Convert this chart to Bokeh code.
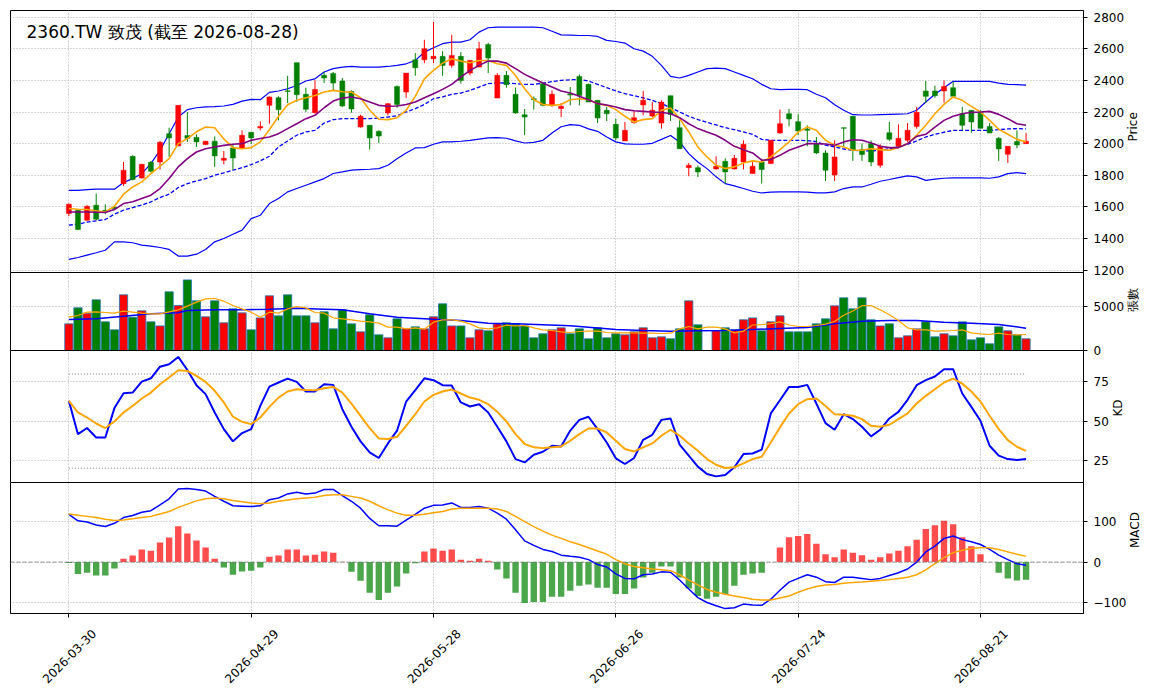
import math
from bokeh.plotting import figure
from bokeh.layouts import column
from bokeh.models import ColumnDataSource, Range1d, FixedTicker, Label, Span, LinearAxis, Axis
from bokeh.embed import file_html
from bokeh.resources import INLINE

NaN = float("nan")

TITLE = "2360.TW 致茂 (截至 2026-08-28)"
TICK_IDX = [0, 20, 40, 60, 80, 100]
TICK_LABELS = ["2026-03-30", "2026-04-29", "2026-05-28", "2026-06-26", "2026-07-24", "2026-08-21"]

OPEN = [1558, 1579, 1516, 1611, 1578, 1598, 1747, 1920, 1783, 1882,
        1884, 2063, 1985, 2051, 2040, 1994, 2015, 1895, 1973, 1973,
        2072, 2099, 2242, 2290, 2334, 2512, 2312, 2196, 2432, 2444,
        2396, 2330, 2105, 2116, 2078, 2194, 2362, 2326, 2530, 2530,
        2537, 2552, 2495, 2552, 2446, 2484, 2627, 2288, 2432, 2312,
        2183, 2284, 2379, 2242, 2222, 2316, 2425, 2375, 2274, 2211,
        2122, 2017, 2133, 2244, 2175, 2130, 2303, 2101, 1848, 1848,
        NaN, 1840, 1888, 1840, 1884, 1811, 1884, 1874, 2067, 2189,
        2139, 2093, 2000, 1941, 1802, 2101, 2173, 1962, 2000, 1863,
        2069, 1983, 2021, 2109, 2333, 2333, 2333, 2354, 2189, 2211,
        2198, 2109, 2034, 1933, 2013, 2000]
HIGH = [1621, 1585, 1611, 1684, 1617, 1610, 1884, 1926, 1873, 1890,
        2017, 2101, 2242, 2200, 2059, 2017, 2046, 1954, 1992, 2084,
        2072, 2141, 2299, 2299, 2429, 2512, 2354, 2400, 2453, 2453,
        2415, 2337, 2183, 2116, 2084, 2257, 2368, 2446, 2573, 2657,
        2770, 2585, 2688, 2579, 2530, 2644, 2638, 2446, 2459, 2354,
        2219, 2299, 2383, 2337, 2257, 2358, 2438, 2380, 2274, 2232,
        2158, 2137, 2206, 2333, 2263, 2274, 2303, 2147, 1878, 1863,
        NaN, 1920, 1907, 1928, 2021, 1884, 1905, 2021, 2215, 2219,
        2187, 2116, 2042, 1958, 2021, 2101, 2173, 2000, 2021, 1996,
        2137, 2122, 2130, 2232, 2396, 2366, 2400, 2392, 2232, 2211,
        2211, 2130, 2042, 1983, 2084, 2067]
LOW = [1541, 1453, 1512, 1516, 1554, 1580, 1733, 1768, 1779, 1819,
       1836, 1916, 1985, 2011, 1979, 1990, 1853, 1869, 1836, 1968,
       1996, 2084, 2126, 2147, 2257, 2263, 2200, 2189, 2383, 2337,
       2232, 2196, 2101, 1962, 2004, 2179, 2227, 2290, 2429, 2509,
       2509, 2429, 2480, 2379, 2432, 2484, 2446, 2288, 2354, 2189,
       2053, 2215, 2236, 2232, 2168, 2242, 2242, 2263, 2130, 2143,
       2021, 2017, 2126, 2179, 2168, 2095, 2143, 1968, 1794, 1789,
       NaN, 1836, 1747, 1836, 1836, 1811, 1747, 1870, 2063, 2109,
       2053, 1983, 1933, 1764, 1764, 1979, 1891, 1891, 1857, 1848,
       2017, 1975, 2011, 2095, 2257, 2290, 2259, 2299, 2084, 2069,
       2097, 2067, 1891, 1878, 1971, 2000]
CLOSE = [1617, 1457, 1604, 1522, 1574, 1590, 1832, 1773, 1869, 1825,
         2008, 2036, 2242, 2034, 2011, 2015, 1922, 1907, 1909, 2053,
         2036, 2109, 2295, 2215, 2330, 2309, 2217, 2343, 2415, 2383,
         2238, 2219, 2173, 2036, 2048, 2253, 2248, 2446, 2480, 2600,
         2552, 2494, 2558, 2400, 2526, 2600, 2541, 2432, 2373, 2194,
         2168, 2278, 2242, 2312, 2236, 2307, 2305, 2263, 2162, 2189,
         2036, 2084, 2164, 2274, 2211, 2263, 2185, 1968, 1863, 1821,
         NaN, 1857, 1821, 1907, 1996, 1857, 1836, 2021, 2126, 2156,
         2080, 2084, 1941, 1832, 1916, 2097, 1958, 1931, 1884, 1983,
         2027, 2034, 2084, 2198, 2299, 2303, 2362, 2299, 2116, 2137,
         2097, 2067, 1966, 1983, 1992, 2015]

BB_UPPER = [1705, 1705, 1709, 1712, 1712, 1712, 1754, 1779, 1810, 1874,
            1958, 2063, 2168, 2215, 2227, 2232, 2234, 2238, 2248, 2269,
            2280, 2278, 2324, 2333, 2347, 2368, 2396, 2410, 2453, 2474,
            2484, 2488, 2484, 2484, 2484, 2488, 2495, 2505, 2526, 2579,
            2606, 2632, 2642, 2642, 2657, 2705, 2733, 2737, 2737, 2737,
            2737, 2737, 2733, 2711, 2688, 2686, 2684, 2684, 2678, 2653,
            2646, 2636, 2600, 2585, 2552, 2495, 2425, 2415, 2432, 2453,
            2474, 2478, 2474, 2453, 2432, 2410, 2375, 2347, 2341, 2343,
            2343, 2341, 2312, 2290, 2246, 2211, 2183, 2181, 2181, 2183,
            2185, 2187, 2189, 2211, 2263, 2312, 2354, 2394, 2394, 2394,
            2394, 2394, 2383, 2375, 2373, 2370]
BB_MID = [1484, 1491, 1503, 1512, 1520, 1554, 1579, 1596, 1611, 1632,
          1659, 1680, 1722, 1747, 1764, 1779, 1800, 1815, 1832, 1848,
          1867, 1891, 1920, 1979, 2017, 2053, 2074, 2084, 2130, 2152,
          2158, 2158, 2158, 2158, 2162, 2168, 2177, 2200, 2221, 2248,
          2284, 2295, 2312, 2320, 2337, 2358, 2379, 2385, 2383, 2379,
          2375, 2375, 2383, 2392, 2400, 2404, 2406, 2396, 2375, 2354,
          2333, 2316, 2303, 2290, 2274, 2253, 2227, 2200, 2173, 2152,
          2135, 2118, 2101, 2088, 2074, 2059, 2027, 2021, 2021, 2021,
          2021, 2019, 2013, 1990, 1979, 1966, 1958, 1954, 1954, 1958,
          1968, 1979, 1996, 2017, 2042, 2059, 2072, 2084, 2084, 2084,
          2084, 2084, 2088, 2093, 2095, 2093]
BB_LOWER = [1268, 1280, 1295, 1310, 1326, 1379, 1379, 1373, 1358, 1352,
            1343, 1331, 1289, 1289, 1301, 1331, 1379, 1400, 1427, 1453,
            1526, 1547, 1621, 1653, 1695, 1716, 1737, 1758, 1779, 1811,
            1821, 1832, 1836, 1838, 1842, 1863, 1905, 1941, 1973, 1975,
            1996, 2011, 2011, 2015, 2021, 2029, 2036, 2038, 2034, 2017,
            2004, 2008, 2021, 2067, 2107, 2120, 2116, 2093, 2078, 2042,
            2011, 1998, 1996, 1996, 2002, 2027, 2051, 2011, 1937, 1884,
            1842, 1790, 1747, 1733, 1716, 1699, 1688, 1693, 1695, 1695,
            1695, 1693, 1688, 1688, 1695, 1716, 1726, 1726, 1743, 1762,
            1773, 1785, 1796, 1790, 1768, 1775, 1781, 1783, 1783, 1783,
            1783, 1781, 1790, 1810, 1817, 1810]
MA5 = [1590, 1585, 1583, 1575, 1568, 1604, 1680, 1726, 1758, 1810,
       1857, 1905, 2000, 2032, 2075, 2105, 2100, 2030, 1975, 1968,
       1975, 2011, 2088, 2173, 2246, 2274, 2290, 2305, 2326, 2337,
       2328, 2326, 2290, 2211, 2154, 2152, 2164, 2211, 2299, 2410,
       2463, 2509, 2537, 2522, 2511, 2526, 2526, 2505, 2495, 2431,
       2347, 2278, 2248, 2242, 2248, 2278, 2284, 2278, 2253, 2242,
       2215, 2173, 2137, 2152, 2158, 2211, 2225, 2158, 2074, 1979,
       1916, 1863, 1842, 1853, 1878, 1891, 1884, 1916, 1962, 2011,
       2074, 2105, 2084, 2021, 1990, 1979, 1958, 1958, 1968, 1962,
       1958, 1975, 2000, 2053, 2116, 2189, 2248, 2295, 2274, 2236,
       2200, 2147, 2091, 2059, 2027, 2011]
MA10 = [1568, 1568, 1568, 1566, 1564, 1583, 1621, 1632, 1653, 1674,
        1716, 1779, 1853, 1905, 1947, 1968, 1979, 1989, 1996, 2000,
        2021, 2032, 2042, 2063, 2095, 2126, 2158, 2179, 2227, 2269,
        2288, 2295, 2284, 2263, 2242, 2236, 2238, 2248, 2263, 2290,
        2316, 2343, 2375, 2421, 2463, 2495, 2522, 2522, 2509, 2474,
        2438, 2410, 2383, 2358, 2333, 2320, 2299, 2278, 2253, 2244,
        2232, 2215, 2208, 2204, 2200, 2198, 2189, 2164, 2126, 2095,
        2074, 2053, 2021, 1983, 1962, 1941, 1895, 1899, 1926, 1958,
        1979, 2000, 2000, 1998, 1989, 2011, 2025, 2021, 2004, 1983,
        1975, 1975, 2000, 2046, 2059, 2105, 2147, 2173, 2189, 2198,
        2200, 2204, 2185, 2158, 2126, 2116]

VOLUME = [3030, 4850, 4245, 5760, 3260, 2350, 6330, 3790, 4510, 3260,
          2800, 6670, 5120, 8030, 5650, 3830, 5650, 3150, 4740, 4280,
          2350, 3710, 6220, 3940, 6330, 3940, 3940, 3150, 4400, 2460,
          4620, 3030, 2120, 4060, 1780, 1440, 3600, 2460, 2690, 2460,
          3830, 5310, 2800, 2800, 1440, 2350, 2240, 3030, 3150, 3030,
          2800, 1440, 1900, 2350, 2580, 1900, 2460, 1330, 2580, 1440,
          1900, 1780, 2120, 2580, 1440, 1550, 1330, 2460, 5650, 2920,
          NaN, 2240, 2580, 2350, 3490, 3710, 2240, 3260, 3940, 2120,
          2120, 2120, 3030, 3600, 5080, 5990, 4740, 5990, 3490, 2800,
          3030, 1440, 1670, 2460, 3260, 1550, 1900, 1670, 3260, 1210,
          1440, 760, 2690, 2240, 1780, 1330]
VOL_MA5 = [3790, 3980, 4359, 4396, 4321, 4245, 4472, 4359, 4245, 4169,
           4169, 4396, 4624, 5041, 5496, 5875, 5912, 5609, 5117, 4738,
           4359, 3790, 4359, 4245, 4738, 5003, 4851, 4321, 4245, 3714,
           3601, 3487, 3335, 3259, 3108, 2653, 2653, 2464, 2577, 2426,
           3222, 3487, 3487, 3335, 3032, 2577, 2464, 2577, 2880, 2805,
           2843, 2577, 2350, 2274, 2122, 2047, 2160, 2198, 2198, 2047,
           2009, 2009, 2009, 1971, 1971, 1933, 1971, 2464, 2729, 2464,
           2653, 2653, 2464, 2009, 2200, 2900, 2950, 3050, 3250, 2900,
           2729, 2729, 2843, 3000, 3300, 4000, 4500, 5100, 5117, 4624,
           4055, 3411, 2577, 2350, 2350, 2198, 2236, 2274, 2350, 2009,
           1895, 1819, 1971, 1819, 1781, 1819]
VOL_MA20_X = [0, 3, 6, 9, 12, 13, 16, 19, 22, 25, 28, 30, 33, 36, 40, 43, 46, 49, 52, 55,
              57, 60, 63, 66, 69, 72, 75, 78, 81, 84, 87, 90, 93, 96, 99, 102, 105]
VOL_MA20 = [3525, 3600, 3904, 4169, 4283, 4548, 4624, 4624, 4700, 4813, 4700, 4624, 4169, 3790,
            3563, 3411, 3108, 3032, 2918, 2805, 2653, 2388, 2274, 2198, 2236, 2274, 2388, 2501,
            2615, 3032, 3335, 3411, 3411, 3222, 3108, 2956, 2539]

K = [62.9, 41.7, 45.6, 39.6, 39.6, 58.3, 67.8, 68.2, 75.2, 77.3,
     84.7, 86.2, 90.9, 82.6, 72.9, 67.2, 55.5, 44.9, 37.1, 42.4,
     44.9, 59.7, 72.0, 74.6, 77.1, 75.0, 68.9, 68.9, 73.5, 73.1,
     57.6, 46.4, 37.1, 30.1, 26.5, 35.8, 43.9, 62.5, 69.7, 77.3,
     76.1, 72.9, 72.7, 61.9, 59.3, 60.8, 55.5, 46.4, 37.1, 25.8,
     23.7, 28.6, 30.5, 34.3, 33.9, 44.0, 50.8, 52.8, 44.9, 36.4,
     26.3, 22.7, 26.5, 38.1, 41.3, 50.8, 51.7, 35.0, 28.0, 21.0,
     16.3, 14.8, 15.7, 20.6, 29.0, 29.4, 31.8, 54.9, 63.3, 71.8,
     71.8, 73.1, 61.2, 48.7, 44.5, 54.4, 51.3, 46.4, 40.3, 44.5,
     51.7, 55.9, 63.6, 72.9, 76.1, 78.4, 83.1, 83.1, 67.6, 59.1,
     50.2, 34.3, 28.0, 25.8, 25.2, 25.8]
D = [62.9, 55.5, 52.3, 48.5, 45.6, 49.8, 55.5, 59.7, 64.4, 68.2,
     73.5, 77.8, 82.4, 82.0, 78.8, 75.0, 69.3, 61.9, 52.8, 49.6,
     48.1, 52.3, 59.1, 65.0, 68.9, 70.3, 69.9, 69.7, 71.0, 71.8,
     68.2, 61.2, 53.4, 45.6, 39.0, 38.6, 40.0, 47.0, 54.4, 62.5,
     66.7, 68.9, 70.1, 67.6, 65.0, 63.6, 60.8, 55.9, 49.8, 41.7,
     35.4, 33.3, 32.8, 33.3, 33.9, 37.5, 41.7, 45.3, 45.3, 42.8,
     37.5, 32.2, 30.7, 33.3, 35.8, 40.7, 44.5, 40.7, 35.8, 31.1,
     25.8, 22.2, 20.1, 20.6, 23.1, 25.8, 27.3, 36.4, 46.0, 54.9,
     60.8, 64.0, 64.4, 59.7, 54.4, 54.0, 53.4, 51.3, 47.0, 46.4,
     47.7, 51.3, 54.9, 61.2, 66.1, 70.3, 74.6, 77.1, 73.9, 68.9,
     62.5, 53.4, 44.9, 37.9, 33.7, 31.1]
KD_HIGH = 80
KD_LOW = 20

MACD = [117, 101, 98, 91, 87, 95, 109, 114, 122, 126,
        140, 155, 179, 180, 178, 174, 161, 149, 138, 137,
        136, 138, 153, 157, 167, 171, 167, 169, 178, 178,
        163, 149, 132, 107, 89, 89, 88, 103, 117, 132,
        139, 140, 145, 134, 134, 136, 132, 120, 105, 79,
        52, 41, 31, 26, 17, 14, 12, 6, -6, -12,
        -29, -40, -41, -31, -29, -24, -25, -44, -66, -87,
        -99, -107, -114, -112, -103, -105, -106, -91, -69, -49,
        -40, -31, -37, -48, -50, -37, -37, -40, -43, -40,
        -33, -26, -17, 0, 25, 39, 58, 64, 55, 50,
        43, 31, 17, 6, -4, -8]
SIGNAL = [118, 115, 112, 109, 105, 102, 103, 106, 109, 112,
          118, 124, 134, 142, 150, 155, 157, 155, 151, 148,
          145, 143, 145, 149, 152, 155, 157, 159, 163, 165,
          165, 161, 157, 149, 138, 128, 120, 115, 115, 117,
          121, 124, 130, 132, 132, 132, 132, 130, 124, 112,
          99, 87, 76, 66, 58, 50, 43, 35, 27, 19,
          6, -4, -11, -14, -17, -19, -21, -31, -44, -56,
          -67, -74, -79, -83, -87, -91, -93, -93, -88, -83,
          -74, -66, -60, -56, -55, -52, -50, -49, -47, -45,
          -43, -40, -37, -31, -19, -4, 11, 23, 29, 33,
          35, 35, 31, 25, 19, 14]
HIST = [-2, -29, -26, -33, -33, -16, 8, 16, 31, 28,
        48, 60, 88, 70, 53, 36, 8, -13, -31, -23,
        -21, -13, 13, 16, 31, 31, 16, 18, 26, 23,
        1, -24, -46, -75, -93, -75, -60, -28, -3, 26,
        33, 28, 31, 6, 3, 8, 3, -18, -40, -75,
        -100, -98, -98, -85, -85, -70, -58, -55, -63, -63,
        -78, -78, -65, -38, -26, -11, -11, -38, -65, -83,
        -90, -85, -78, -58, -31, -28, -26, 0, 36, 61,
        64, 69, 45, 19, 12, 31, 23, 17, 6, 12,
        21, 28, 39, 55, 81, 90, 101, 93, 61, 39,
        19, 0, -26, -40, -45, -43]

PRICE_TICKS = [1200, 1400, 1600, 1800, 2000, 2200, 2400, 2600, 2800]
VOL_TICKS = [0, 5000]
KD_TICKS = [25, 50, 75]
MACD_TICKS = [-100, 0, 100]

# ---------------- layout / style ----------------
FW = 1073
LEFT = 10
OV = 8          # overlap between stacked panels so edge tick labels are not cut
FONT = "DejaVu Sans"
UP, DOWN = "red", "green"
IDX = list(range(len(CLOSE)))
xr = Range1d(-6.4, 111.3)
HAS_ORIENT = "axis_label_orientation" in Axis.properties()


def make_fig(h, yr, ticks, label, top=0, bottom=OV, overlap=True, xaxis=False):
    p = figure(frame_width=FW, frame_height=h, x_range=xr, y_range=Range1d(*yr),
               x_axis_location="below" if xaxis else None, y_axis_location="right",
               toolbar_location=None, output_backend="svg",
               min_border_left=LEFT, min_border_right=68,
               min_border_top=top, min_border_bottom=bottom,
               background_fill_color="white", border_fill_color="white",
               border_fill_alpha=0.0)
    if overlap:
        p.margin = (-OV, 0, 0, 0)
    p.outline_line_color = "black"
    p.outline_line_width = 1
    p.xgrid.ticker = FixedTicker(ticks=TICK_IDX)
    for g in (p.xgrid, p.ygrid):
        g.grid_line_color = "#b0b0b0"
        g.grid_line_dash = "1 2"
        g.grid_line_width = 1
    ya = p.yaxis[0]
    ya.ticker = FixedTicker(ticks=ticks)
    ya.major_tick_out = 4
    ya.major_tick_in = 0
    ya.minor_tick_line_color = None
    ya.major_label_standoff = 6
    ya.major_label_text_font = FONT
    ya.major_label_text_font_size = "12px"
    ya.major_label_text_color = "black"
    ya.axis_line_color = "black"
    ya.major_tick_line_color = "black"
    ya.axis_label = label
    ya.axis_label_text_font = FONT
    ya.axis_label_text_font_size = "12px"
    ya.axis_label_text_font_style = "normal"
    ya.axis_label_text_color = "black"
    ya.axis_label_standoff = 6
    if HAS_ORIENT:
        ya.axis_label_orientation = math.pi / 2
    return p


colors = [UP if (c >= o) else DOWN for o, c in zip(OPEN, CLOSE)]
src = ColumnDataSource(dict(
    x=IDX, o=OPEN, h=HIGH, l=LOW, c=CLOSE,
    top=[max(o, c) for o, c in zip(OPEN, CLOSE)],
    bot=[min(o, c) for o, c in zip(OPEN, CLOSE)],
    col=colors, vol=VOLUME))

# ---- price panel
H1 = 262
p1 = make_fig(H1, (1185, 2842), PRICE_TICKS, "Price", top=10, overlap=False)
p1.line(IDX, BB_UPPER, line_color="blue", line_width=1.2)
p1.line(IDX, BB_LOWER, line_color="blue", line_width=1.2)
p1.line(IDX, BB_MID, line_color="blue", line_width=1.3, line_dash="4 2")
p1.segment(x0="x", y0="h", x1="x", y1="l", line_color="col", line_width=1, source=src)
p1.vbar(x="x", width=0.55, top="top", bottom="bot", fill_color="col", line_color="col",
        line_width=0.5, source=src)
p1.line(IDX, MA5, line_color="orange", line_width=1.6)
p1.line(IDX, MA10, line_color="purple", line_width=1.6)
p1.add_layout(Label(x=16, y=H1 - 21, x_units="screen", y_units="screen", text=TITLE,
                    text_font=FONT, text_font_size="17px", text_baseline="middle",
                    text_color="black"))

# ---- volume panel
H2 = 78
p2 = make_fig(H2, (0, 8870), VOL_TICKS, "張數")
p2.vbar(x="x", width=0.9, top="vol", bottom=0, fill_color="col", line_color="#1f77b4",
        line_width=0.8, source=src)
p2.line(VOL_MA20_X, VOL_MA20, line_color="blue", line_width=1.5)
p2.line(IDX, VOL_MA5, line_color="orange", line_width=1.2)

# ---- KD panel
H3 = 132
p3 = make_fig(H3, (10.9, 95.0), KD_TICKS, "KD")
p3.line([IDX[0], IDX[-1]], [KD_HIGH, KD_HIGH], line_color="gray", line_dash="1 2", line_width=1)
p3.line([IDX[0], IDX[-1]], [KD_LOW, KD_LOW], line_color="gray", line_dash="1 2", line_width=1)
p3.line(IDX, K, line_color="blue", line_width=2)
p3.line(IDX, D, line_color="orange", line_width=2)

# ---- MACD panel
H4 = 131
p4 = make_fig(H4, (-126, 195), MACD_TICKS, "MACD", bottom=2, xaxis=True)
xa = p4.xaxis[0]
xa.ticker = FixedTicker(ticks=TICK_IDX)
xa.major_label_overrides = {t: "" for t in TICK_IDX}
xa.major_label_text_font_size = "1px"
xa.major_label_standoff = 0
xa.major_tick_out = 4
xa.major_tick_in = 0
xa.minor_tick_line_color = None
xa.axis_line_color = "black"
# rotated date labels: anchored by their upper end, so their ticks sit a little to the right
LABEL_SHIFT = 2.75
xa2 = LinearAxis(ticker=FixedTicker(ticks=[t + LABEL_SHIFT for t in TICK_IDX]),
                 major_label_overrides={t + LABEL_SHIFT: lab for t, lab in zip(TICK_IDX, TICK_LABELS)},
                 major_label_orientation=math.pi / 4,
                 major_label_text_font=FONT, major_label_text_font_size="12px",
                 major_label_text_color="black", major_label_standoff=8,
                 major_tick_line_color=None, minor_tick_line_color=None,
                 axis_line_color=None)
p4.add_layout(xa2, "below")
p4.add_layout(Span(location=0, dimension="width", line_color="gray", line_dash="4 2",
                   line_width=1, line_alpha=0.8))
hsrc = ColumnDataSource(dict(x=IDX, v=HIST, col=[UP if v >= 0 else DOWN for v in HIST]))
p4.vbar(x="x", width=0.7, top="v", bottom=0, fill_color="col", fill_alpha=0.7,
        line_color=None, source=hsrc)
p4.line(IDX, MACD, line_color="blue", line_width=1.5)
p4.line(IDX, SIGNAL, line_color="orange", line_width=1.5)

layout = column(p1, p2, p3, p4, spacing=0)
open("out.html", "w").write(file_html(layout, INLINE))
